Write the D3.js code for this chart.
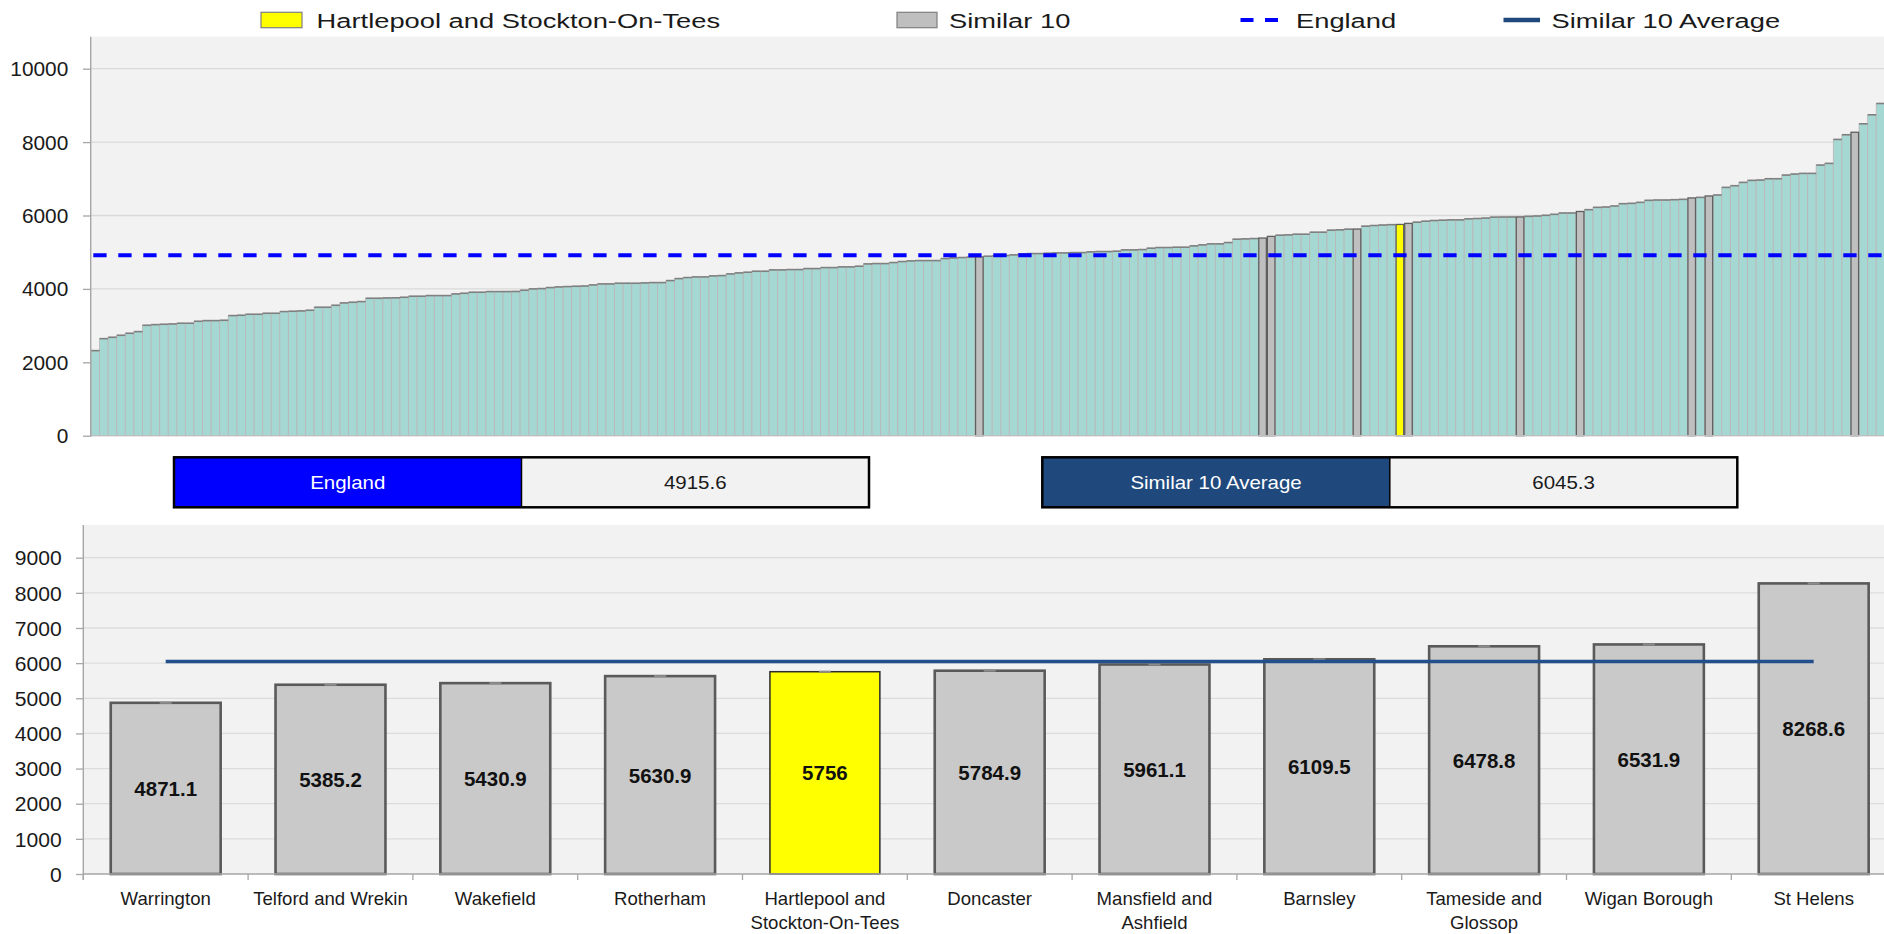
<!DOCTYPE html>
<html><head><meta charset="utf-8">
<script src="https://cdn.jsdelivr.net/npm/d3@7"></script>
<style>
html,body{margin:0;padding:0;background:#fff;overflow:hidden}
svg{display:block;font-family:"Liberation Sans",Arial,sans-serif}
</style></head><body>
<svg id="chart" width="1884" height="934"></svg>
<script>
// ---------- DATA ----------
// All areas in England, ranked ascending (top chart)
const allValues = [
2318,2645,2682,2736,2791,2836,3009,3027,3036,3045,
3064,3064,3118,3136,3136,3145,3273,3282,3309,3309,
3336,3336,3382,3391,3400,3418,3500,3500,3554,3618,
3636,3654,3745,3745,3754,3758,3772,3800,3800,3818,
3818,3818,3863,3881,3909,3909,3927,3927,3927,3930,
3963,4000,4009,4036,4054,4063,4072,4078,4109,4136,
4136,4154,4154,4154,4163,4172,4172,4227,4281,4309,
4327,4327,4354,4363,4409,4436,4454,4481,4481,4518,
4518,4527,4527,4554,4554,4581,4581,4600,4600,4618,
4681,4690,4690,4718,4745,4763,4772,4772,4772,4827,
4845,4855,4865,4871.1,4890,4900,4909,4927,4954,4963,
4963,4972,4981,4981,4990,4990,5009,5018,5018,5027,
5063,5063,5072,5109,5127,5127,5136,5136,5172,5200,
5227,5227,5263,5354,5363,5372,5385.2,5430.9,5463,5472,
5490,5490,5545,5545,5600,5609,5627,5630.9,5709,5727,
5740,5750,5756,5784.9,5818,5845,5863,5872,5881,5881,
5909,5918,5930,5955,5958,5959,5961.1,5977,5986,6005,
6032,6068,6068,6109.5,6159,6222,6231,6259,6322,6331,
6358,6413,6422,6422,6431,6440,6478.8,6494,6531.9,6558,
6766,6812,6902,6957,6966,7002,7002,7102,7129,7147,
7147,7374,7420,8073,8200,8268.6,8499,8744,9052
];
// Similar 10 comparison (bottom chart)
const areaNames = ["Warrington","Telford and Wrekin","Wakefield","Rotherham",
  "Hartlepool and Stockton-On-Tees","Doncaster","Mansfield and Ashfield","Barnsley",
  "Tameside and Glossop","Wigan Borough","St Helens"];
const areaValues = [4871.1,5385.2,5430.9,5630.9,5756,5784.9,5961.1,6109.5,6478.8,6531.9,8268.6];
const subjectName = "Hartlepool and Stockton-On-Tees";
const englandValue = 4915.6;
const similarAverage = 6045.3;
const topTicks = [0,2000,4000,6000,8000,10000];
const bottomTicks = [0,1000,2000,3000,4000,5000,6000,7000,8000,9000];
const legendLabels = ["Hartlepool and Stockton-On-Tees","Similar 10","England","Similar 10 Average"];
const boxLabels = ["England","Similar 10 Average"];

// ---------- HELPERS ----------
const svg = d3.select("#chart");
function place(sel, x, y, sx){
  sel.attr("x",0).attr("y",0).attr("transform",`translate(${x},${y}) scale(${sx},1)`);
  return sel;
}
const W = 1884;
const subjectValue = areaValues[areaNames.indexOf(subjectName)];
const similarSet = new Set(areaValues);
const kindOf = v => v === subjectValue ? "subject" : (similarSet.has(v) ? "similar" : "other");

// ---------- LEGEND ----------
const legY = 20;
const lg = svg.append("g");
lg.append("rect").attr("x",261).attr("y",12.3).attr("width",41).attr("height",15.4)
  .attr("fill","#ffff00").attr("stroke","#7f7f7f").attr("stroke-width",1.2);
lg.append("rect").attr("x",897).attr("y",12.3).attr("width",40).attr("height",15.4)
  .attr("fill","#bfbfbf").attr("stroke","#7f7f7f").attr("stroke-width",1.2);
lg.append("line").attr("x1",1240.5).attr("x2",1278).attr("y1",legY).attr("y2",legY)
  .attr("stroke","#0000ff").attr("stroke-width",4).attr("stroke-dasharray","13 11.5");
lg.append("line").attr("x1",1503.5).attr("x2",1540).attr("y1",legY).attr("y2",legY)
  .attr("stroke","#1f497d").attr("stroke-width",4.5);
const legX = [316.6, 949, 1296, 1551.6];
legendLabels.forEach((t,i)=>{
  place(lg.append("text").text(t).attr("font-size",21).attr("fill","#1a1a1a"), legX[i], 28, 1.3);
});

// ---------- TOP CHART ----------
const T = {left:90.7, top:36.7, bottom:435.7};
const xTop = d3.scaleBand().domain(d3.range(allValues.length)).range([91, 91 + allValues.length*8.583]).padding(0);
const yTop = d3.scaleLinear().domain([0,10000]).range([435.7, 68.7]);
const topG = svg.append("g");
topG.append("rect").attr("x",T.left).attr("y",T.top).attr("width",W-T.left).attr("height",T.bottom-T.top).attr("fill","#f2f2f2");
topG.append("g").selectAll("line").data(topTicks.filter(d=>d>0)).join("line")
  .attr("x1",T.left).attr("x2",W).attr("y1",d=>yTop(d)).attr("y2",d=>yTop(d))
  .attr("stroke","#d9d9d9").attr("stroke-width",1.3);

const bars = allValues.map((v,i)=>({v,i,k:kindOf(v)}));
const bw = xTop.bandwidth();
const others = bars.filter(d=>d.k==="other");
topG.append("g").selectAll("rect").data(others).join("rect")
  .attr("x",d=>xTop(d.i)).attr("y",d=>yTop(d.v)).attr("width",bw).attr("height",d=>yTop(0)-yTop(d.v))
  .attr("fill","#a6d8d3").attr("stroke","#b9b9b9").attr("stroke-width",0.9);
topG.append("g").selectAll("line").data(others).join("line")
  .attr("x1",d=>xTop(d.i)).attr("x2",d=>xTop(d.i)+bw).attr("y1",d=>yTop(d.v)).attr("y2",d=>yTop(d.v))
  .attr("stroke","#808080").attr("stroke-width",1.6);
topG.append("g").selectAll("rect").data(bars.filter(d=>d.k!=="other")).join("rect")
  .attr("x",d=>xTop(d.i)+0.5).attr("y",d=>yTop(d.v)).attr("width",bw-1).attr("height",d=>yTop(0)-yTop(d.v))
  .attr("fill",d=>d.k==="subject"?"#ffff00":"#bfbfbf").attr("stroke","#5f5f5f").attr("stroke-width",1.3);

// England line
topG.append("line").attr("x1",91).attr("x2",W).attr("y1",yTop(englandValue)).attr("y2",yTop(englandValue))
  .attr("stroke","#0000ff").attr("stroke-width",4).attr("stroke-dasharray","13.3 11.7").attr("stroke-dashoffset",22.7);

// axes
topG.append("line").attr("x1",T.left).attr("x2",W).attr("y1",T.bottom).attr("y2",T.bottom).attr("stroke","#bfbfbf").attr("stroke-width",1.2);
topG.append("line").attr("x1",T.left).attr("x2",T.left).attr("y1",T.top).attr("y2",T.bottom+1).attr("stroke","#a6a6a6").attr("stroke-width",1.4);
const yAxTop = topG.append("g").attr("transform",`translate(${T.left},0)`)
  .call(d3.axisLeft(yTop).tickValues(topTicks).tickSize(7.7).tickSizeOuter(0).tickFormat(d3.format("d")));
yAxTop.select(".domain").remove();
yAxTop.selectAll(".tick line").attr("stroke","#a6a6a6").attr("stroke-width",1.3);
yAxTop.selectAll(".tick text").attr("font-size",19.5).attr("font-family",null).attr("fill","#1a1a1a")
  .attr("dy",null).attr("y",7).attr("text-anchor","end").attr("x",-22.4/1.07).attr("transform","scale(1.07,1)");

// ---------- SUMMARY BOXES ----------
const boxes = svg.append("g");
const boxDefs = [
  {x:174, label:boxLabels[0], value:englandValue, fill:"#0000ff"},
  {x:1042.3, label:boxLabels[1], value:similarAverage, fill:"#1f497d"}
];
boxDefs.forEach(b=>{
  const w = 347.5, y = 457.3, h = 50;
  boxes.append("rect").attr("x",b.x).attr("y",y).attr("width",w).attr("height",h).attr("fill",b.fill);
  boxes.append("rect").attr("x",b.x+w).attr("y",y).attr("width",w).attr("height",h).attr("fill","#f2f2f2");
  boxes.append("rect").attr("x",b.x).attr("y",y).attr("width",2*w).attr("height",h).attr("fill","none").attr("stroke","#000").attr("stroke-width",2.5);
  boxes.append("line").attr("x1",b.x+w).attr("x2",b.x+w).attr("y1",y).attr("y2",y+h).attr("stroke","#000").attr("stroke-width",1.5);
  place(boxes.append("text").text(b.label).attr("font-size",18.6).attr("fill","#fff").attr("text-anchor","middle"), b.x+w/2, y+h/2+6.5, 1.1);
  place(boxes.append("text").text(d3.format(".1f")(b.value)).attr("font-size",18.6).attr("fill","#1a1a1a").attr("text-anchor","middle"), b.x+1.5*w, y+h/2+6.5, 1.1);
});

// ---------- BOTTOM CHART ----------
const B = {left:83.3, top:525, bottom:874};
const xB = d3.scaleBand().domain(areaNames).range([B.left, B.left + areaNames.length*164.8]).paddingInner(0.333).paddingOuter(0.1665);
const yB = d3.scaleLinear().domain([0,9000]).range([874, 557.7]);
const bot = svg.append("g");
bot.append("rect").attr("x",B.left).attr("y",B.top).attr("width",W-B.left).attr("height",B.bottom-B.top).attr("fill","#f2f2f2");
bot.append("g").selectAll("line").data(bottomTicks.filter(d=>d>0)).join("line")
  .attr("x1",B.left).attr("x2",W).attr("y1",d=>yB(d)).attr("y2",d=>yB(d))
  .attr("stroke","#dcdcdc").attr("stroke-width",1.3);

const bb = xB.bandwidth();
const bdata = areaNames.map((n,i)=>({n, v:areaValues[i]}));
bot.append("g").selectAll("rect").data(bdata).join("rect")
  .attr("x",d=>xB(d.n)).attr("y",d=>yB(d.v)).attr("width",bb).attr("height",d=>yB(0)-yB(d.v))
  .attr("fill",d=>d.n===subjectName?"#ffff00":"#c9c9c9")
  .attr("stroke",d=>d.n===subjectName?"#2b2b2b":"#5a5a5a")
  .attr("stroke-width",d=>d.n===subjectName?1.5:2.6);
bot.append("g").selectAll("line").data(bdata).join("line")
  .attr("x1",d=>xB(d.n)+bb/2-6).attr("x2",d=>xB(d.n)+bb/2+6).attr("y1",d=>yB(d.v)).attr("y2",d=>yB(d.v))
  .attr("stroke","#8c8c8c").attr("stroke-width",2);

// average line
bot.append("line")
  .attr("x1",xB(areaNames[0])+bb/2).attr("x2",xB(areaNames[areaNames.length-1])+bb/2)
  .attr("y1",yB(similarAverage)).attr("y2",yB(similarAverage))
  .attr("stroke","#23508c").attr("stroke-width",3.4);

// value labels
bot.append("g").selectAll("text").data(bdata).join("text")
  .text(d=>String(d.v)).attr("text-anchor","middle").attr("font-size",20.5).attr("font-weight","bold").attr("fill","#111")
  .attr("x",d=>xB(d.n)+bb/2).attr("y",d=>(yB(d.v)+yB(0))/2+7.5);

// axes
bot.append("line").attr("x1",B.left).attr("x2",W).attr("y1",B.bottom).attr("y2",B.bottom).attr("stroke","#a6a6a6").attr("stroke-width",1.4);
bot.append("line").attr("x1",B.left).attr("x2",B.left).attr("y1",B.top).attr("y2",B.bottom+6).attr("stroke","#a6a6a6").attr("stroke-width",1.4);
bot.append("g").selectAll("line").data(d3.range(areaNames.length+1)).join("line")
  .attr("x1",i=>xB.range()[0]+i*xB.step()).attr("x2",i=>xB.range()[0]+i*xB.step())
  .attr("y1",B.bottom).attr("y2",B.bottom+6).attr("stroke","#a6a6a6").attr("stroke-width",1.3);
const yAxB = bot.append("g").attr("transform",`translate(${B.left},0)`)
  .call(d3.axisLeft(yB).tickValues(bottomTicks).tickSize(7.3).tickSizeOuter(0).tickFormat(d3.format("d")));
yAxB.select(".domain").remove();
yAxB.selectAll(".tick line").attr("stroke","#a6a6a6").attr("stroke-width",1.3);
yAxB.selectAll(".tick text").attr("font-size",20.5).attr("font-family",null).attr("fill","#1a1a1a")
  .attr("dy",null).attr("y",7.2).attr("text-anchor","end").attr("x",-21.6/1.03).attr("transform","scale(1.03,1)");

// category labels with wrapping
const labG = bot.append("g");
bdata.forEach(d=>{
  const cx = xB(d.n)+bb/2;
  const words = d.n.split(" ");
  const lines = [];
  let cur = [];
  const probe = labG.append("text").attr("font-size",18.6);
  words.forEach(w=>{
    const test = cur.concat([w]).join(" ");
    probe.text(test);
    if (probe.node().getComputedTextLength() > xB.step()*0.97 && cur.length){
      lines.push(cur.join(" ")); cur=[w];
    } else cur.push(w);
  });
  lines.push(cur.join(" "));
  probe.remove();
  lines.forEach((ln,k)=>{
    labG.append("text").text(ln).attr("font-size",18.6).attr("fill","#1a1a1a").attr("text-anchor","middle")
      .attr("x",cx).attr("y",905+k*24);
  });
});
</script>
</body></html>
